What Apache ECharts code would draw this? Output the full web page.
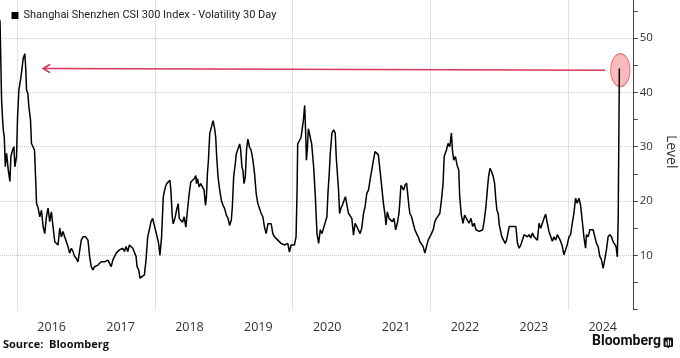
<!DOCTYPE html>
<html>
<head>
<meta charset="utf-8">
<script src="https://cdn.jsdelivr.net/npm/echarts/dist/echarts.min.js"></script>
<style>
html,body{margin:0;padding:0;background:#fff;}
#c{width:680px;height:358px;}
</style>
</head>
<body>
<div id="c"></div>
<script>
// ---- Data (dates as fractional years, values = 30-day volatility level) ----
const seriesName = 'Shanghai Shenzhen CSI 300 Index - Volatility 30 Day';
const dates = [
  2015.750, 2015.773, 2015.788, 2015.798, 2015.812, 2015.827, 2015.846, 2015.870, 2015.894, 2015.908, 2015.933, 2015.952, 2015.966, 2015.990,
  2016.005, 2016.024, 2016.048, 2016.067, 2016.087, 2016.111, 2016.125, 2016.135, 2016.154, 2016.169, 2016.193, 2016.207, 2016.231, 2016.251, 2016.270, 2016.280,
  2016.304, 2016.328, 2016.352, 2016.376, 2016.400, 2016.424, 2016.448, 2016.472, 2016.496, 2016.520, 2016.545, 2016.569, 2016.593, 2016.617, 2016.641, 2016.665,
  2016.689, 2016.713, 2016.737, 2016.761, 2016.786, 2016.810, 2016.834, 2016.858, 2016.882, 2016.906, 2016.930, 2016.954, 2016.993,
  2017.027, 2017.051, 2017.075, 2017.099, 2017.123, 2017.171, 2017.219, 2017.267, 2017.316, 2017.364, 2017.388, 2017.436, 2017.484, 2017.533, 2017.557, 2017.581,
  2017.605, 2017.629, 2017.653, 2017.677, 2017.701, 2017.725, 2017.740, 2017.764, 2017.783, 2017.812, 2017.846, 2017.870, 2017.894, 2017.918, 2017.942, 2017.966, 2017.990,
  2018.014, 2018.053, 2018.072, 2018.096, 2018.120, 2018.145, 2018.169, 2018.193, 2018.217, 2018.231, 2018.251, 2018.265, 2018.289, 2018.313, 2018.337, 2018.352,
  2018.376, 2018.400, 2018.424, 2018.448, 2018.472, 2018.496, 2018.520, 2018.545, 2018.569, 2018.593, 2018.602, 2018.617, 2018.641, 2018.665, 2018.689, 2018.713,
  2018.733, 2018.747, 2018.761, 2018.776, 2018.795, 2018.819, 2018.843, 2018.867, 2018.882, 2018.896, 2018.916, 2018.940, 2018.964, 2018.988,
  2019.012, 2019.036, 2019.060, 2019.084, 2019.108, 2019.123, 2019.142, 2019.166, 2019.181, 2019.205, 2019.229, 2019.243, 2019.263, 2019.277, 2019.292, 2019.311,
  2019.330, 2019.349, 2019.373, 2019.398, 2019.422, 2019.446, 2019.470, 2019.494, 2019.518, 2019.542, 2019.566, 2019.590, 2019.614, 2019.639, 2019.663, 2019.687,
  2019.711, 2019.735, 2019.783, 2019.831, 2019.880, 2019.928, 2019.952, 2019.976,
  2020.024, 2020.048, 2020.063, 2020.072, 2020.096, 2020.120, 2020.135, 2020.154, 2020.173, 2020.188, 2020.198, 2020.212, 2020.227, 2020.251, 2020.275, 2020.304,
  2020.328, 2020.352, 2020.376, 2020.400, 2020.424, 2020.448, 2020.472, 2020.496, 2020.511, 2020.530, 2020.545, 2020.569, 2020.593, 2020.617, 2020.631, 2020.651,
  2020.665, 2020.680, 2020.699, 2020.723, 2020.747, 2020.766, 2020.786, 2020.810, 2020.834, 2020.858, 2020.882, 2020.906, 2020.930, 2020.954, 2020.978,
  2021.002, 2021.027, 2021.051, 2021.075, 2021.099, 2021.123, 2021.147, 2021.171, 2021.195, 2021.219, 2021.243, 2021.267, 2021.292, 2021.316, 2021.340, 2021.354,
  2021.373, 2021.398, 2021.422, 2021.446, 2021.470, 2021.494, 2021.518, 2021.542, 2021.557, 2021.571, 2021.590, 2021.610, 2021.629, 2021.653, 2021.667, 2021.687,
  2021.701, 2021.725, 2021.749, 2021.773, 2021.798, 2021.822, 2021.846, 2021.870, 2021.894, 2021.918, 2021.942, 2021.966, 2021.990,
  2022.014, 2022.039, 2022.063, 2022.087, 2022.111, 2022.135, 2022.159, 2022.183, 2022.198, 2022.217, 2022.231, 2022.255, 2022.280, 2022.304, 2022.318, 2022.337,
  2022.361, 2022.386, 2022.410, 2022.424, 2022.448, 2022.472, 2022.496, 2022.520, 2022.559, 2022.588, 2022.612, 2022.636, 2022.660, 2022.684, 2022.708, 2022.733,
  2022.757, 2022.781, 2022.805, 2022.829, 2022.843, 2022.863, 2022.887, 2022.911, 2022.930, 2022.949, 2022.964, 2022.983, 2022.998,
  2023.022, 2023.036, 2023.060, 2023.084, 2023.104, 2023.123, 2023.142, 2023.166, 2023.190, 2023.214, 2023.239, 2023.263, 2023.287, 2023.311, 2023.335, 2023.359,
  2023.383, 2023.407, 2023.431, 2023.455, 2023.480, 2023.504, 2023.528, 2023.552, 2023.576, 2023.600, 2023.624, 2023.648, 2023.672, 2023.696, 2023.720, 2023.745,
  2023.769, 2023.793, 2023.817, 2023.841, 2023.865, 2023.889, 2023.913, 2023.937, 2023.961, 2023.986,
  2024.010, 2024.034, 2024.058, 2024.082, 2024.106, 2024.130, 2024.154, 2024.178, 2024.202, 2024.227, 2024.251, 2024.265, 2024.289, 2024.313, 2024.337, 2024.361,
  2024.386, 2024.410, 2024.434, 2024.458, 2024.482, 2024.506, 2024.530, 2024.554, 2024.578, 2024.602, 2024.627, 2024.651, 2024.675, 2024.694, 2024.712, 2024.725, 2024.742
];
const levels = [
  53.3, 38.6, 34.9, 33.0, 31.8, 26.3, 28.8, 25.7, 23.6, 28.2, 29.4, 30.0, 26.3, 28.2,
  35.5, 40.4, 42.3, 44.1, 46.3, 47.1, 44.1, 40.4, 39.8, 37.4, 34.9, 30.6, 30.3, 29.4, 23.3, 19.6,
  18.7, 17.1, 18.3, 15.3, 14.0, 17.1, 18.7, 16.2, 18.0, 15.3, 12.5, 12.8, 11.9, 15.0, 13.4, 14.4,
  13.4, 13.7, 11.6, 10.4, 11.3, 10.7, 9.8, 9.4, 8.8, 8.5, 12.8, 13.4, 13.4,
  12.8, 9.8, 7.9, 7.3, 7.9, 8.2, 8.8, 8.8, 9.1, 7.9, 9.1, 10.4, 11.0, 11.3, 10.7, 11.6,
  10.7, 11.9, 12.2, 11.3, 11.0, 9.8, 7.9, 7.3, 5.8, 6.1, 6.4, 9.1, 13.4, 14.7, 16.2, 16.8, 16.5,
  14.3, 12.2, 10.0, 13.4, 20.7, 22.3, 23.2, 22.9, 23.8, 22.0, 17.1, 15.8, 16.8, 18.3, 19.5, 16.8,
  17.1, 16.1, 17.1, 15.2, 18.3, 21.3, 23.5, 23.8, 24.1, 24.7, 23.2, 24.1, 22.6, 23.2, 22.9, 22.0,
  19.2, 20.7, 25.0, 27.5, 32.4, 33.6, 34.8, 33.3, 31.7, 28.1, 24.4, 22.0, 20.1, 19.2,
  18.6, 17.4, 16.8, 15.5, 16.5, 18.9, 24.4, 26.9, 28.7, 29.6, 30.5, 29.6, 26.2, 25.6, 23.2, 24.4,
  29.6, 31.4, 29.9, 29.3, 27.5, 25.0, 21.3, 19.5, 19.2, 17.7, 17.1, 15.2, 14.0, 15.8, 16.1, 15.8,
  14.0, 13.4, 12.8, 12.2, 11.9, 12.2, 10.6, 11.9,
  11.9, 13.4, 22.0, 30.5, 31.1, 31.7, 32.0, 34.8, 37.6, 32.4, 27.5, 29.6, 33.3, 33.0, 30.5, 26.2,
  20.8, 14.0, 12.2, 14.7, 14.0, 15.0, 15.3, 17.1, 21.4, 25.1, 28.8, 32.5, 33.1, 32.5, 28.2, 24.5,
  22.0, 17.7, 18.7, 19.3, 20.2, 20.8, 19.3, 17.7, 17.4, 16.8, 13.7, 15.9, 15.3, 15.6, 14.0,
  15.0, 17.7, 19.0, 21.4, 22.0, 23.9, 25.7, 27.5, 29.1, 29.4, 28.5, 25.7, 22.6, 19.6, 17.4, 15.6,
  18.0, 16.8, 17.1, 16.2, 16.8, 14.7, 15.9, 17.7, 20.2, 22.9, 22.6, 22.0, 22.9, 23.3, 23.3, 19.0,
  17.7, 17.1, 15.9, 14.7, 14.0, 13.4, 12.5, 12.2, 11.6, 10.4, 11.6, 12.8, 13.4,
  14.0, 14.7, 16.2, 16.8, 17.1, 17.7, 20.2, 23.3, 28.2, 28.5, 29.4, 30.6, 30.0, 32.5, 29.4, 27.5,
  28.2, 26.6, 25.7, 20.8, 17.4, 15.9, 17.4, 17.1, 15.9, 16.8, 15.3, 15.9, 14.7, 15.0, 14.4, 14.1,
  14.7, 16.5, 19.0, 22.6, 24.5, 26.0, 25.4, 24.5, 23.3, 20.2, 18.3, 17.7, 15.6,
  15.9, 13.4, 12.8, 12.2, 12.8, 14.0, 15.3, 15.6, 15.3, 15.0, 15.3, 12.2, 11.3, 11.9, 12.2, 13.8,
  14.1, 13.4, 13.8, 13.2, 14.1, 13.4, 13.2, 12.8, 15.9, 15.0, 15.9, 16.8, 17.6, 15.9, 14.4, 14.1,
  12.6, 13.4, 12.8, 13.8, 13.2, 12.6, 11.7, 10.1, 11.0, 12.0,
  13.4, 13.8, 15.9, 17.7, 20.5, 19.6, 20.5, 19.3, 16.5, 13.4, 11.3, 13.8, 13.4, 14.7, 15.0, 14.7,
  13.4, 12.2, 11.6, 9.8, 9.2, 7.6, 9.2, 11.0, 13.4, 13.8, 13.4, 12.5, 12.2, 11.6, 9.7, 16.9, 44.4
];
const yearLabels = [2016, 2017, 2018, 2019, 2020, 2021, 2022, 2023, 2024];
const gridYears = [2016, 2018, 2020, 2022, 2024];
const gridLevels = [10, 20, 30, 40, 50];
// Annotation: arrow from the latest reading back to the early-2016 peak, and highlight of latest reading
const arrowFrom = [2024.534, 44.1];
const arrowTo = [2016.42, 44.4];
const highlight = [2024.756, 44.1];

// ---- Chart ----
const chart = echarts.init(document.getElementById('c'), null, {renderer: 'canvas', width: 680, height: 358});
const FONT = '"Open Sans", "Noto Sans", sans-serif';
const lineData = dates.map((d, i) => [d, levels[i]]);
const gridColor = '#c8c8c8';
const X_MIN = 2015.75, X_MAX = 2024.95, Y_MIN = 0, Y_MAX = 60;

const gridSegments = gridYears.map(y => ({coords: [[y, Y_MIN], [y, Y_MAX]]}))
  .concat(gridLevels.map(l => ({coords: [[X_MIN, l], [X_MAX, l]]})));

const option = {
  animation: false,
  backgroundColor: '#ffffff',
  textStyle: {fontFamily: FONT},
  grid: {left: 0, right: 46.3, top: -16.2, bottom: 48.4, containLabel: false, outerBoundsMode: 'none'},
  legend: {
    data: [seriesName],
    left: 6.5, top: 5,
    icon: 'rect', itemWidth: 7, itemHeight: 7,
    textStyle: {fontSize: 11, color: '#222', fontFamily: 'Roboto, sans-serif'},
    selectedMode: false
  },
  xAxis: {
    type: 'value', min: X_MIN, max: X_MAX, interval: 0.25,
    axisLine: {show: false}, axisTick: {show: false}, splitLine: {show: false},
    axisLabel: {
      margin: 11, fontSize: 12.5, color: '#333', fontFamily: FONT,
      formatter: function (v) {
        const y = Math.floor(v + 1e-9);
        return (Math.abs(v - y - 0.5) < 1e-6 && yearLabels.indexOf(y) >= 0) ? String(y) : '';
      }
    }
  },
  yAxis: {
    type: 'value', position: 'right', min: Y_MIN, max: Y_MAX, interval: 10,
    axisLine: {show: true, lineStyle: {color: '#444', width: 1}},
    axisTick: {show: true, length: 4, lineStyle: {color: '#444'}},
    minorTick: {show: true, splitNumber: 2, length: 4, lineStyle: {color: '#444'}},
    splitLine: {show: false},
    axisLabel: {
      margin: 6, fontSize: 11.5, color: '#333', fontFamily: FONT,
      formatter: function (v) { return gridLevels.indexOf(v) >= 0 ? String(v) : ''; }
    },
    name: 'Level', nameLocation: 'middle', nameRotate: -90, nameGap: 30,
    nameTextStyle: {fontSize: 14, color: '#333', fontFamily: FONT, padding: [0, 0, 0, 10]}
  },
  series: [
    {
      name: 'gridlines', type: 'lines', coordinateSystem: 'cartesian2d', silent: true, z: 1,
      polyline: false, effect: {show: false}, symbol: ['none', 'none'],
      lineStyle: {color: gridColor, type: 'dotted', width: 1, opacity: 1, curveness: 0},
      data: gridSegments
    },
    {
      name: 'highlight', type: 'scatter', data: [highlight], silent: true, z: 2,
      symbol: 'circle', symbolSize: [19.5, 33],
      itemStyle: {color: 'rgba(242, 115, 120, 0.62)', borderColor: '#e0565f', borderWidth: 1}
    },
    {
      name: seriesName, type: 'line', data: lineData, showSymbol: false, z: 3,
      lineStyle: {color: '#000', width: 1.5}, itemStyle: {color: '#000'},
      markLine: {
        silent: true, z: 4, label: {show: false},
        symbol: ['none', 'path://M50,0 L100,85 L88,100 L56,46 L56,100 L44,100 L44,46 L12,100 L0,85 Z'],
        symbolSize: [9.5, 9],
        lineStyle: {color: '#d8385c', type: 'solid', width: 1.5},
        data: [[{coord: arrowFrom}, {coord: arrowTo}]]
      }
    }
  ],
  graphic: [
    {type: 'text', left: 3, top: 339, style: {text: 'Source:  Bloomberg', fontSize: 11, fontWeight: 'bold', fill: '#111', fontFamily: FONT}},
    {type: 'text', left: 592, top: 334, style: {text: 'Bloomberg', fontSize: 14, fontWeight: 'bold', fill: '#111', fontFamily: 'Roboto, sans-serif'}},
    {type: 'group', left: 663.5, top: 337.5, children: [
      {type: 'rect', shape: {x: 0, y: 0, width: 9.5, height: 9.5, r: 1.5}, style: {fill: '#111'}},
      {type: 'polygon', shape: {points: [[3.5, 9.5], [6, 9.5], [4.75, 11]]}, style: {fill: '#111'}},
      {type: 'rect', shape: {x: 2, y: 4, width: 1.2, height: 4}, style: {fill: '#fff'}},
      {type: 'rect', shape: {x: 4.2, y: 2, width: 1.2, height: 6}, style: {fill: '#fff'}},
      {type: 'rect', shape: {x: 6.4, y: 3, width: 1.2, height: 5}, style: {fill: '#fff'}}
    ]}
  ]
};
chart.setOption(option);
</script>
</body>
</html>
